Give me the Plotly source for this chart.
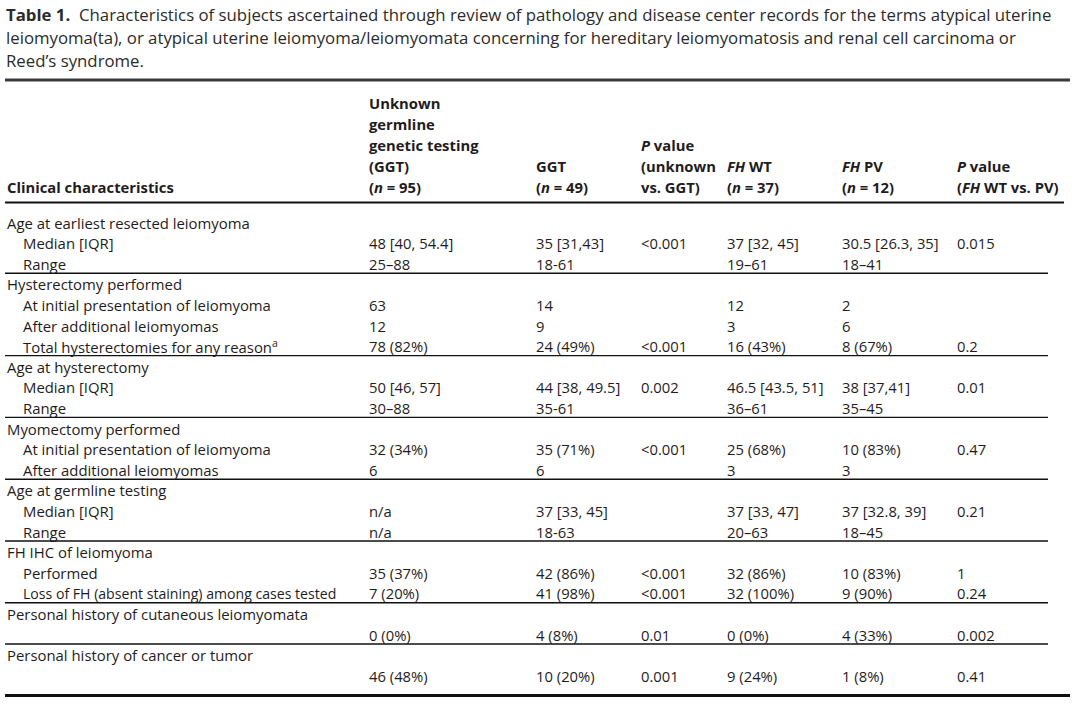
import plotly.graph_objects as go

# ---------------- data ----------------
title_lines = [
    "<b>Table 1.</b>  Characteristics of subjects ascertained through review of pathology and disease center records for the terms atypical uterine",
    "leiomyoma(ta), or atypical uterine leiomyoma/leiomyomata concerning for hereditary leiomyomatosis and renal cell carcinoma or",
    "Reed’s syndrome.",
]

header_cols = [
    ["Clinical characteristics"],
    ["Unknown", "germline", "genetic testing", "(GGT)", "(<i>n</i> = 95)"],
    ["GGT", "(<i>n</i> = 49)"],
    ["<i>P</i> value", "(unknown", "vs. GGT)"],
    ["<i>FH</i> WT", "(<i>n</i> = 37)"],
    ["<i>FH</i> PV", "(<i>n</i> = 12)"],
    ["<i>P</i> value", "(<i>FH</i> WT vs. PV)"],
]

labels = [
    "Age at earliest resected leiomyoma", "Median [IQR]", "Range",
    "Hysterectomy performed", "At initial presentation of leiomyoma", "After additional leiomyomas",
    "Total hysterectomies for any reason<sup>a</sup>",
    "Age at hysterectomy", "Median [IQR]", "Range",
    "Myomectomy performed", "At initial presentation of leiomyoma", "After additional leiomyomas",
    "Age at germline testing", "Median [IQR]", "Range",
    "FH IHC of leiomyoma", "Performed", "Loss of FH (absent staining) among cases tested",
    "Personal history of cutaneous leiomyomata", "",
    "Personal history of cancer or tumor", "",
]
indented = [0, 1, 1, 0, 1, 1, 1, 0, 1, 1, 0, 1, 1, 0, 1, 1, 0, 1, 1, 0, 1, 0, 1]

col_unknown = ["", "48 [40, 54.4]", "25–88", "", "63", "12", "78 (82%)", "", "50 [46, 57]", "30–88",
               "", "32 (34%)", "6", "", "n/a", "n/a", "", "35 (37%)", "7 (20%)", "", "0 (0%)", "", "46 (48%)"]
col_ggt = ["", "35 [31,43]", "18-61", "", "14", "9", "24 (49%)", "", "44 [38, 49.5]", "35-61",
           "", "35 (71%)", "6", "", "37 [33, 45]", "18-63", "", "42 (86%)", "41 (98%)", "", "4 (8%)", "", "10 (20%)"]
col_p1 = ["", "<0.001", "", "", "", "", "<0.001", "", "0.002", "",
          "", "<0.001", "", "", "", "", "", "<0.001", "<0.001", "", "0.01", "", "0.001"]
col_wt = ["", "37 [32, 45]", "19–61", "", "12", "3", "16 (43%)", "", "46.5 [43.5, 51]", "36–61",
          "", "25 (68%)", "3", "", "37 [33, 47]", "20–63", "", "32 (86%)", "32 (100%)", "", "0 (0%)", "", "9 (24%)"]
col_pv = ["", "30.5 [26.3, 35]", "18–41", "", "2", "6", "8 (67%)", "", "38 [37,41]", "35–45",
          "", "10 (83%)", "3", "", "37 [32.8, 39]", "18–45", "", "10 (83%)", "9 (90%)", "", "4 (33%)", "", "1 (8%)"]
col_p2 = ["", "0.015", "", "", "", "", "0.2", "", "0.01", "",
          "", "0.47", "", "", "0.21", "", "", "1", "0.24", "", "0.002", "", "0.41"]

group_end_rows = [2, 6, 9, 12, 15, 18, 20]

# ---------------- layout ----------------
W, H = 1080, 704
FONT = "Open Sans"
TXT = "#1f1c1d"
col_x = [5, 367, 534, 639, 725, 840, 955]
indent_x = 21
row0_y = 222.5
row_h = 20.6
hdr_last_y = 186.5
hdr_h = 20.8
title_y0 = 14.5
title_h = 23

fig = go.Figure()
fig.add_trace(go.Scatter(x=[0, W], y=[0, H], mode="markers",
                         marker=dict(opacity=0), hoverinfo="skip", showlegend=False))

ann = []

def add_text(x, y, text, size=15, color=TXT):
    ann.append(dict(x=x, y=y, xref="x", yref="y", text=text, showarrow=False,
                    xanchor="left", yanchor="middle", align="left",
                    font=dict(family=FONT, size=size, color=color)))

for i, t in enumerate(title_lines):
    add_text(4, title_y0 + i * title_h, t, size=16.8, color="#2b2b2b")

for c, lines in enumerate(header_cols):
    n = len(lines)
    for k, t in enumerate(lines):
        y = hdr_last_y - (n - 1 - k) * hdr_h
        add_text(col_x[c], y, "<b>" + t + "</b>", size=14.8)

value_cols = [col_unknown, col_ggt, col_p1, col_wt, col_pv, col_p2]
for r, lab in enumerate(labels):
    y = row0_y + r * row_h
    if lab:
        sz = 14.9
        if r == 18:
            sz = 14.1
        add_text(indent_x if indented[r] else col_x[0], y, lab, size=sz)
    for c, col in enumerate(value_cols):
        if col[r]:
            add_text(col_x[c + 1], y, col[r], size=14.8)

shapes = []
def hline(y, x0, x1, w, color="#222"):
    shapes.append(dict(type="line", xref="x", yref="y", x0=x0, x1=x1, y0=y, y1=y,
                       line=dict(color=color, width=w)))

hline(80, 5, 1070, 3, "#3a3a3a")
hline(202.5, 5, 1064, 2.2, "#111")
for r in group_end_rows:
    hline(row0_y + r * row_h + 9.5, 5, 1048, 1.4, "#111")
hline(695.5, 5, 1070, 3, "#111")

fig.update_layout(
    width=W, height=H,
    margin=dict(l=0, r=0, t=0, b=0),
    paper_bgcolor="white", plot_bgcolor="white",
    xaxis=dict(range=[0, W], visible=False, fixedrange=True),
    yaxis=dict(range=[H, 0], visible=False, fixedrange=True),
    annotations=ann, shapes=shapes, showlegend=False,
)

fig.write_html(
    "out.html",
    config={"displayModeBar": False},
    post_script="document.body.style.margin='0';document.body.style.overflow='hidden';",
)
